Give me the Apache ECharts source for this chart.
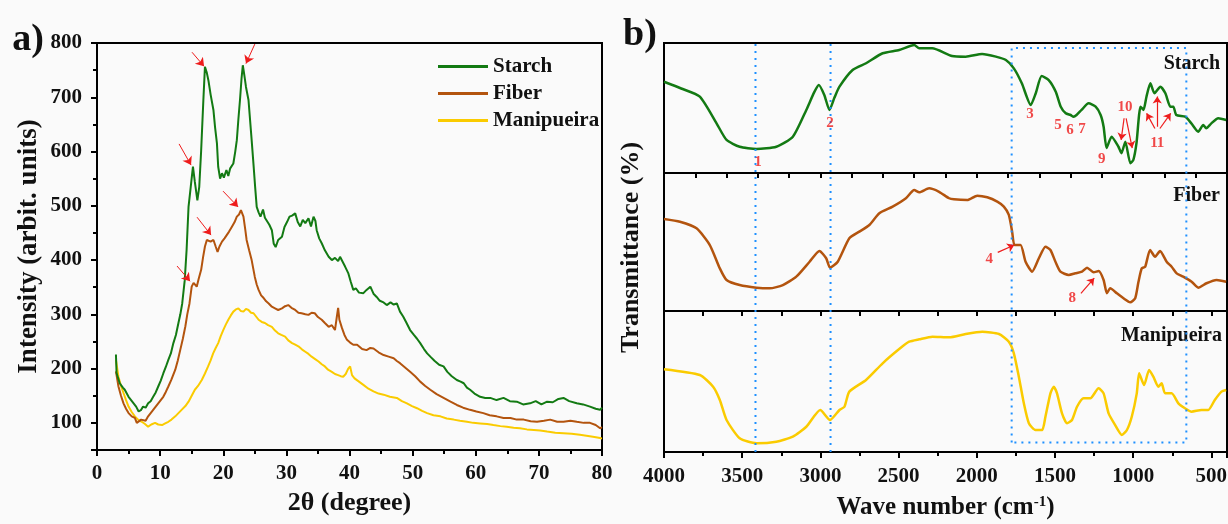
<!DOCTYPE html>
<html><head><meta charset="utf-8">
<script src="https://cdn.jsdelivr.net/npm/echarts@6/dist/echarts.min.js"></script>
<style>html,body{margin:0;padding:0;background:#fafafa}#c{width:1228px;height:524px}</style>
</head><body><div id="c"></div><script>
// ---------- Data: panel a) XRD ----------
const xrdSeriesNames = ['Starch', 'Fiber', 'Manipueira'];
const xrdStarch = [[3,226],[3.1,192],[3.6,173],[4.1,165],[4.4,161],[5,148],[5.4,142],[5.8,136],[6.2,130],[6.6,121],[7,124],[7.3,130],[7.7,128],[8.1,136],[8.5,140],[8.9,148],[9.3,156],[9.7,167],[10.1,178],[10.5,191],[10.9,203],[11.3,216],[11.7,228],[12.1,247],[12.5,262],[12.9,284],[13.2,300],[13.5,320],[13.9,363],[14.2,420],[14.5,498],[14.85,535],[15.2,572],[15.5,544],[15.9,510],[16.2,535],[16.5,602],[16.85,695],[17.1,756],[17.4,745],[17.65,731],[18,705],[18.45,676],[18.7,645],[19,615],[19.2,572],[19.5,550],[19.8,560],[20.1,552],[20.5,566],[20.8,555],[21.1,569],[21.6,578],[21.9,600],[22.15,621],[22.4,660],[22.65,695],[22.9,735],[23.1,759],[23.35,740],[23.6,719],[24,695],[24.5,621],[24.8,575],[25.05,535],[25.3,498],[25.6,488],[25.9,480],[26.3,493],[26.6,478],[26.9,480],[27.3,465],[27.7,455],[28,430],[28.3,424],[28.7,437],[29,440],[29.3,443],[29.7,461],[30.1,470],[30.5,480],[30.9,482],[31.4,486],[31.8,470],[32.2,462],[32.6,474],[33,468],[33.5,477],[33.9,462],[34.3,480],[34.6,472],[34.8,455],[35.2,440],[35.6,431],[36.1,418],[36.7,406],[37.2,400],[37.7,404],[38.2,398],[38.5,406],[38.8,403],[39.3,388],[39.8,376],[40.2,360],[40.6,345],[41,348],[41.5,340],[42.2,339],[42.7,345],[43.3,351],[43.8,338],[44.3,332],[44.8,325],[45.4,322],[45.9,317],[46.5,322],[47,318],[47.5,320],[48,305],[48.5,296],[49,285],[49.6,271],[50.2,262],[50.7,255],[51.2,247],[51.8,236],[52.3,228],[52.8,222],[53.5,214],[54.2,207],[54.9,204],[55.5,194],[56.2,186],[57,179],[57.6,176],[58.1,173],[58.6,165],[59.1,161],[59.8,154],[60.7,148],[61.5,146],[62.3,146],[63.3,142],[64.4,146],[65.4,140],[66.5,139],[67.5,134],[68.6,136],[69.5,140],[70.4,134],[71.3,139],[72.2,138],[73.1,144],[73.9,146],[74.8,140],[76,136],[77,134],[78.1,130],[79,126],[79.7,124],[80,128]];
const xrdFiber = [[3,195],[3.4,167],[3.8,150],[4.2,136],[4.6,126],[5,118],[5.5,112],[6,109],[6.3,100],[6.6,97],[7,106],[7.3,109],[7.7,104],[8.1,112],[8.5,118],[8.9,124],[9.3,130],[9.7,136],[10.1,142],[10.5,148],[10.9,157],[11.3,167],[11.8,180],[12.4,198],[12.8,215],[13.2,235],[13.6,255],[14,278],[14.3,300],[14.65,320],[15,351],[15.3,358],[15.55,357],[15.8,351],[16.1,365],[16.5,382],[16.8,405],[17.1,425],[17.4,437],[17.65,440],[18,434],[18.45,437],[18.8,425],[19.1,415],[19.4,425],[19.8,434],[20.2,440],[20.55,446],[20.9,452],[21.35,461],[21.8,470],[22.15,480],[22.5,484],[22.8,492],[23.2,480],[23.5,455],[23.7,437],[24.1,418],[24.5,400],[25,369],[25.3,355],[25.6,345],[26,335],[26.4,330],[26.8,324],[27.2,320],[27.7,314],[28.2,311],[28.7,308],[29.3,311],[29.8,315],[30.3,317],[30.8,312],[31.4,308],[31.9,303],[32.4,302],[33,300],[33.5,299],[34,303],[34.5,302],[35,295],[35.6,290],[36.1,284],[36.7,277],[37.2,280],[37.7,271],[38,296],[38.2,312],[38.4,290],[38.8,275],[39.2,262],[39.6,253],[40.1,248],[40.6,244],[41.2,244],[42,236],[42.7,234],[43.3,238],[43.8,237],[44.6,230],[45.4,225],[46.2,222],[47,219],[47.5,214],[48,210],[48.8,202],[49.6,194],[50.4,186],[51.2,176],[52,168],[52.8,161],[53.8,153],[54.9,146],[56,139],[57,133],[58,128],[59.1,124],[60.1,121],[61.2,118],[62.2,114],[63.3,112],[64.4,109],[65.5,109],[66.5,106],[67.6,106],[68.7,103],[69.7,102],[70.8,104],[71.8,106],[72.9,102],[73.9,102],[75,104],[76,102],[77.1,100],[78.1,100],[79,96],[79.7,90],[80,92]];
const xrdManip = [[3,216],[3.4,185],[3.8,168],[4.2,155],[4.6,142],[5,130],[5.5,120],[6,112],[6.5,106],[7.1,102],[7.6,98],[8.1,93],[8.6,97],[9.2,100],[9.7,97],[10.3,96],[10.8,99],[11.3,102],[11.8,106],[12.4,112],[12.9,118],[13.4,124],[14,131],[14.5,139],[15,150],[15.5,161],[16,168],[16.6,179],[17.1,191],[17.6,204],[18,215],[18.4,228],[18.8,238],[19.2,247],[19.6,260],[20,271],[20.4,281],[20.8,290],[21.2,298],[21.6,305],[22,309],[22.4,311],[22.8,306],[23.2,305],[23.6,310],[24,308],[24.4,303],[24.8,302],[25.2,296],[25.6,290],[26.1,286],[26.6,284],[27.1,280],[27.7,277],[28.2,270],[28.7,265],[29.2,262],[29.8,259],[30.3,252],[30.9,247],[31.4,244],[31.9,241],[32.5,235],[33,231],[33.5,227],[34,222],[34.5,218],[35.1,213],[35.6,208],[36.1,204],[36.6,198],[37.2,194],[37.7,190],[38.2,188],[38.6,186],[39,185],[39.4,190],[39.8,200],[40.1,204],[40.4,188],[40.8,182],[41.5,176],[42.2,170],[43,163],[43.8,158],[44.6,154],[45.4,152],[46.4,148],[47.5,146],[48.3,140],[49.1,136],[49.9,131],[50.7,127],[51.5,122],[52.3,118],[53.3,114],[54.4,112],[55.4,108],[56.5,106],[57.5,104],[58.6,102],[59.6,100],[60.7,99],[61.8,98],[62.8,96],[63.9,94],[64.9,93],[66,91],[67,90],[68.1,88],[69.2,87],[70.2,86],[71.3,84],[72.6,82],[73.9,81],[75.2,80],[76.5,78],[77.8,76],[78.8,74],[79.7,72],[80,71]];
// red arrows in panel a): [start, end] in (2θ, intensity)
const xrdArrows = [[[15.05,783],[16.96,757]],[[25.0,798],[23.6,762]],[[13.0,614],[14.9,575]],[[15.85,479],[18.07,446]],[[19.97,527],[22.35,498]],[[12.68,389],[14.74,361]]];

// ---------- Data: panel b) FTIR (wavenumber, relative transmittance 0-100 within its strip) ----------
const ftirNames = ['Starch', 'Fiber', 'Manipueira'];
const ftirStarch = [[4000,70.2],[3890,65],[3771,58.7],[3664,38.2],[3600,25.4],[3516,20.2],[3409,18.5],[3282,20.2],[3176,27.9],[3090,48.5],[3040,62],[3010,67.7],[2975,60],[2942,48.5],[2910,58],[2878,66.4],[2794,79.2],[2708,84.4],[2602,92.1],[2496,94.6],[2400,98.5],[2368,95.9],[2285,95.9],[2158,90],[2070,89.5],[1966,91.5],[1878,89.5],[1814,86.9],[1763,80.5],[1712,69],[1655,52.3],[1623,61.3],[1585,74.6],[1540,71.5],[1495,62.5],[1463,51],[1431,45.9],[1400,44.6],[1381,43.3],[1362,44.6],[1330,48.5],[1285,53.6],[1240,51],[1208,44.6],[1189,35.6],[1170,19.2],[1138,27.9],[1094,20.2],[1075,15.2],[1050,24.1],[1018,7.5],[999,10],[979,22.8],[953,51],[934,48.5],[915,58.7],[890,69],[864,61.3],[826,66.4],[794,61.3],[762,51],[743,51],[724,44.6],[667,43.3],[628,38.2],[584,31.8],[552,36.9],[533,34.4],[500,38.2],[456,42.1],[405,40.8]];
const ftirFiber = [[4000,66.7],[3898,64.7],[3792,59.9],[3707,47.8],[3643,30.9],[3600,22.5],[3516,18.8],[3409,16.9],[3324,16.4],[3240,18.8],[3154,24.9],[3069,35.7],[3006,43.5],[2963,38.2],[2938,31.4],[2889,35.7],[2815,52.7],[2751,57.5],[2687,62.3],[2623,70.8],[2538,75.6],[2453,81.7],[2400,87.7],[2368,86],[2305,88.9],[2241,86.4],[2177,81.7],[2146,80.9],[2061,80.4],[1997,83.6],[1933,82.4],[1869,79.2],[1827,75.6],[1795,69.6],[1774,57.5],[1759,47.8],[1720,47.8],[1688,35.7],[1646,28.5],[1603,38.2],[1561,46.6],[1529,44.2],[1497,35.7],[1465,28.5],[1412,26.1],[1370,27.3],[1327,28.5],[1295,31.4],[1253,28],[1221,29],[1189,22.5],[1168,12.8],[1147,16.4],[1104,12.8],[1062,9.2],[1019,6.3],[987,9.2],[966,21.2],[945,30.9],[923,32.1],[892,44.2],[860,39.3],[828,43.5],[786,35.7],[754,32.1],[722,27.3],[680,24.9],[626,21.2],[584,16.9],[531,20.1],[467,22.5],[405,21.2]];
const ftirManip = [[4000,58.7],[3771,54.6],[3686,46.3],[3643,36.9],[3600,22.7],[3516,9.7],[3409,6.2],[3282,7.3],[3176,10.9],[3090,17.9],[3001,29.8],[2938,22.7],[2878,29.8],[2846,32.1],[2815,42.8],[2708,51.1],[2602,62.9],[2496,73],[2432,78.2],[2368,79.9],[2284,81.8],[2177,81.3],[2071,83.7],[1965,85.3],[1858,83.7],[1795,78.2],[1763,70],[1731,53.4],[1699,34.5],[1667,20.4],[1625,15.6],[1582,15.6],[1561,25],[1529,41.6],[1508,46.3],[1487,41.6],[1455,27.4],[1423,20.4],[1391,22.7],[1359,32.1],[1317,38.1],[1274,38.1],[1221,45.2],[1189,41.6],[1157,27.4],[1115,19.1],[1072,12.1],[1040,15.6],[1009,25],[977,41.6],[962,55.8],[930,47.5],[898,58.2],[871,53.4],[839,46.3],[818,48.7],[796,41.6],[754,41.6],[711,34.5],[669,31],[627,28.6],[563,29.8],[520,29.8],[478,36.9],[435,42.8],[405,44]];
// blue dotted guides over whole panel b) (wavenumber, 0-100 of full height)
const guideLine1 = [[3415,0],[3415,100]];
const guideLine2 = [[2935,0],[2935,100]];
const guideBox = [[1777,2.3],[1777,98.8],[660,98.8],[660,2.3],[1777,2.3]];
// band labels in panel b) (wavenumber, 0-100 of full height)
const bandLabels = [['1',3399,70.9],['2',2939,80.4],['3',1660,82.6],['5',1481,79.8],['6',1404,78.7],['7',1327,79],['9',1201,71.6],['10',1053,84.3],['11',846,75.6],['4',1920,47.2],['8',1389,37.6]];
const bandArrows = [[[1058,81.6],[1077,76.3]],[[1045,81.6],[1006,74.3]],[[861,79.1],[914,82.8]],[[846,79.5],[846,86.9]],[[829,79.1],[760,82.8]],[[1866,48.8],[1760,50.6]],[[1334,38.8],[1249,42.5]]];

// ---------- Chart ----------
const SERIF = "'Liberation Serif','Times New Roman',serif";
const colors = ['#137A13', '#B3540E', '#FACB00'];
const RED = '#EE1C1C';
const BLUE = '#1E90FF';
const chart = echarts.init(document.getElementById('c'), null, {renderer: 'canvas'});
const tickLbl = {fontFamily: SERIF, fontWeight: 'bold', fontSize: 21, color: '#111', formatter: v => String(v)};
const axLine = {show: true, lineStyle: {color: '#000', width: 2}};

const rightX = (extra) => Object.assign({
  type: 'value', inverse: true, min: 400, max: 4000,
  axisLine: axLine, splitLine: {show: false},
  axisTick: {show: true, inside: false, length: 5, lineStyle: {color: '#000', width: 2}},
  axisLabel: {show: false}
}, extra);
const hiddenY = (gi) => ({type: 'value', gridIndex: gi, min: 0, max: 100, show: false});

const series = [];
[xrdStarch, xrdFiber, xrdManip].forEach((d, i) => series.push({
  name: xrdSeriesNames[i], type: 'line', xAxisIndex: 0, yAxisIndex: 0, data: d,
  symbol: 'none', lineStyle: {width: 2, color: colors[i]}, itemStyle: {color: colors[i]}, z: 3 - i + 2
}));
series.push({
  type: 'lines', coordinateSystem: 'cartesian2d', xAxisIndex: 0, yAxisIndex: 0,
  data: xrdArrows.map(c => ({coords: c})), symbol: ['none', 'arrow'], symbolSize: 8,
  lineStyle: {color: RED, width: 1, opacity: 1}, z: 10
});
[ftirStarch, ftirFiber, ftirManip].forEach((d, i) => series.push({
  type: 'line', xAxisIndex: i + 1, yAxisIndex: i + 1, data: d, smooth: 0.2,
  symbol: 'none', lineStyle: {width: 2.5, color: colors[i]}, z: 3
}));
[guideLine1, guideLine2, guideBox].forEach(d => series.push({
  type: 'line', xAxisIndex: 4, yAxisIndex: 4, data: d, symbol: 'none',
  lineStyle: {width: 2, color: BLUE, type: [2, 5]}, z: 4
}));
series.push({
  type: 'scatter', xAxisIndex: 4, yAxisIndex: 4, symbolSize: 0,
  data: bandLabels.map(b => ({name: b[0], value: [b[1], b[2]]})),
  label: {show: true, position: 'inside', formatter: '{b}', color: RED, fontFamily: SERIF, fontWeight: 'bold', fontSize: 15},
  z: 10
});
series.push({
  type: 'lines', coordinateSystem: 'cartesian2d', xAxisIndex: 4, yAxisIndex: 4,
  data: bandArrows.map(c => ({coords: c})), symbol: ['none', 'arrow'], symbolSize: 7,
  lineStyle: {color: RED, width: 1.2, opacity: 1}, z: 10
});

const gridBox = {show: true, borderColor: '#000', borderWidth: 2, backgroundColor: 'transparent', containLabel: false, outerBoundsMode: 'none'};
const option = {
  animation: false,
  backgroundColor: '#fafafa',
  grid: [
    Object.assign({left: 97, top: 43, width: 505, height: 407}, gridBox),
    Object.assign({left: 664, top: 43, width: 563, height: 130}, gridBox),
    Object.assign({left: 664, top: 173, width: 563, height: 138}, gridBox),
    Object.assign({left: 664, top: 311, width: 563, height: 141}, gridBox),
    {left: 664, top: 43, width: 563, height: 409, show: false, containLabel: false, outerBoundsMode: 'none'}
  ],
  legend: {
    data: xrdSeriesNames, orient: 'vertical', left: 433, top: 51, itemWidth: 50, itemHeight: 3, itemGap: 6,
    icon: 'rect',
    textStyle: {fontFamily: SERIF, fontWeight: 'bold', fontSize: 21, color: '#111'}
  },
  xAxis: [
    {type: 'value', gridIndex: 0, min: 0, max: 80, interval: 10,
     name: '2θ (degree)', nameLocation: 'middle', nameGap: 40,
     nameTextStyle: {fontFamily: SERIF, fontWeight: 'bold', fontSize: 26, color: '#111'},
     axisLine: axLine, splitLine: {show: false},
     axisTick: {show: true, length: 6, lineStyle: {color: '#000', width: 2}},
     minorTick: {show: true, splitNumber: 2, length: 4, lineStyle: {color: '#000', width: 2}},
     axisLabel: Object.assign({margin: 13}, tickLbl)},
    rightX({gridIndex: 1, interval: 200}),
    rightX({gridIndex: 2, splitNumber: 7, minorTick: {show: true, splitNumber: 2, length: 5, lineStyle: {color: '#000', width: 2}}}),
    rightX({gridIndex: 3, splitNumber: 7,
      axisTick: {show: true, length: 6, lineStyle: {color: '#000', width: 2}},
      minorTick: {show: true, splitNumber: 2, length: 4, lineStyle: {color: '#000', width: 2}},
      axisLabel: Object.assign({show: true, margin: 14, showMinLabel: false}, tickLbl),
      name: 'Wave number (cm{sup|-1})', nameLocation: 'middle', nameGap: 43,
      nameTextStyle: {fontFamily: SERIF, fontWeight: 'bold', fontSize: 25, color: '#111',
        rich: {sup: {fontFamily: SERIF, fontWeight: 'bold', fontSize: 15, color: '#111', verticalAlign: 'top', padding: [0, 0, 10, 0]}}}
    }),
    {type: 'value', gridIndex: 4, inverse: true, min: 400, max: 4000, show: false}
  ],
  yAxis: [
    {type: 'value', gridIndex: 0, min: 50, max: 800, splitNumber: 7,
     name: 'Intensity (arbit. units)', nameLocation: 'middle', nameGap: 54,
     nameTextStyle: {fontFamily: SERIF, fontWeight: 'bold', fontSize: 27, color: '#111'},
     axisLine: axLine, splitLine: {show: false},
     axisTick: {show: true, length: 6, lineStyle: {color: '#000', width: 2}},
     minorTick: {show: true, splitNumber: 2, length: 4, lineStyle: {color: '#000', width: 2}},
     axisLabel: Object.assign({margin: 15, showMinLabel: false}, tickLbl)},
    hiddenY(1), hiddenY(2), hiddenY(3),
    {type: 'value', gridIndex: 4, min: 0, max: 100,
     name: 'Transmittance (%)', nameLocation: 'middle', nameGap: 20,
     nameTextStyle: {fontFamily: SERIF, fontWeight: 'bold', fontSize: 26, color: '#111'},
     axisLine: {show: false}, axisTick: {show: false}, axisLabel: {show: false}, splitLine: {show: false}}
  ],
  graphic: [
    {type: 'text', x: 28, y: 40, style: {text: 'a)', font: 'bold 38px ' + SERIF, fill: '#111', align: 'center', verticalAlign: 'middle', textAlign: 'center', textVerticalAlign: 'middle'}},
    {type: 'text', x: 640, y: 35, style: {text: 'b)', font: 'bold 38px ' + SERIF, fill: '#111', align: 'center', verticalAlign: 'middle', textAlign: 'center', textVerticalAlign: 'middle'}},
    {type: 'text', x: 1220, y: 64, style: {text: ftirNames[0], font: 'bold 20px ' + SERIF, fill: '#111', align: 'right', verticalAlign: 'middle', textAlign: 'right', textVerticalAlign: 'middle'}},
    {type: 'text', x: 1220, y: 196, style: {text: ftirNames[1], font: 'bold 20px ' + SERIF, fill: '#111', align: 'right', verticalAlign: 'middle', textAlign: 'right', textVerticalAlign: 'middle'}},
    {type: 'text', x: 1222, y: 336, style: {text: ftirNames[2], font: 'bold 20px ' + SERIF, fill: '#111', align: 'right', verticalAlign: 'middle', textAlign: 'right', textVerticalAlign: 'middle'}}
  ],
  series: series
};
chart.setOption(option);
</script></body></html>
